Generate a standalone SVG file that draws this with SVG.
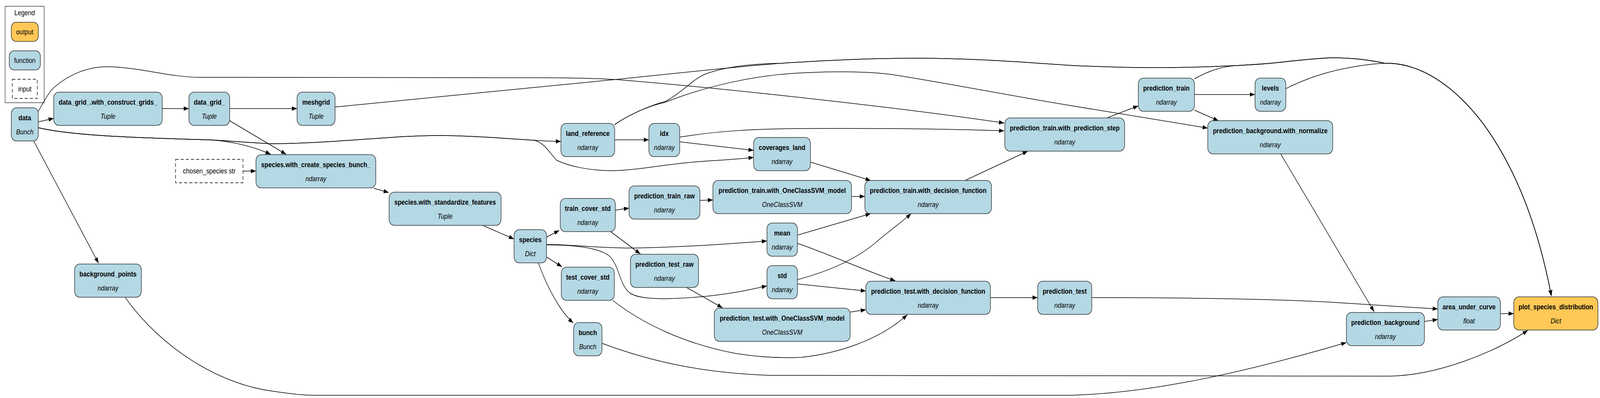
<svg xmlns="http://www.w3.org/2000/svg" width="4675" height="1019" viewBox="0 0 4675 1019" preserveAspectRatio="none">
<style>
:root{width:100vw;height:100vh}
.nd rect{fill:#b4d8e4;stroke:#333;stroke-width:1.6}
.nd.out rect{fill:#ffc857}
.nd.inp rect{fill:#fff;stroke:#000;stroke-width:1.4;stroke-dasharray:9,6}
.b{font-family:"Liberation Sans",Arial,Helvetica,sans-serif;font-weight:bold;font-size:18px;text-anchor:middle;fill:#000}
.i{font-family:"Liberation Sans",Arial,Helvetica,sans-serif;font-style:italic;font-size:18px;text-anchor:middle;fill:#000}
.r{font-family:"Liberation Sans",Arial,Helvetica,sans-serif;font-size:18px;text-anchor:middle;fill:#000}
#edges path{fill:none;stroke:#000;stroke-width:1.5;marker-end:url(#arr)}
</style>
<defs>
<marker id="arr" markerUnits="userSpaceOnUse" markerWidth="16" markerHeight="12" refX="15" refY="6" orient="auto">
<path d="M0,0.5 L15,6 L0,11.5 z" fill="#000"/>
</marker>
</defs>
<rect x="0" y="0" width="4675" height="1019" fill="#fff"/>

<g id="legend">
<rect x="15" y="16" width="114" height="247" fill="#fff" stroke="#333" stroke-width="1.4"/>
<text class="r" x="72" y="39">Legend</text>
<g class="nd out"><rect x="33" y="57" width="79" height="49" rx="14"/></g>
<text class="r" x="72.5" y="88">output</text>
<g class="nd"><rect x="27" y="130" width="91" height="49" rx="14"/></g>
<text class="r" x="72.5" y="161">function</text>
<g class="nd inp"><rect x="36" y="203" width="73" height="49"/></g>
<text class="r" x="72.5" y="234">input</text>
</g>

<g id="edges">
<path d="M112,312 L157,303"/>
<path d="M112,285 C125,265 140,240 153,228 C200,190 260,168 327,171 C420,175 500,198 587,198 L1560,199 C1650,199 1730,200 1805,204 C2100,225 2600,272 2934,315"/>
<path d="M112,327 C200,345 350,352 612,358 C680,362 740,375 791,395"/>
<path d="M112,327 C200,345 350,352 612,358 C700,362 760,368 800,368 C1000,366 1150,346 1290,347 C1400,348 1480,355 1560,359 C1590,361 1610,362 1639,362"/>
<path d="M112,327 C200,345 350,352 612,358 C700,362 760,368 800,368 C1000,366 1150,346 1290,347 C1400,348 1480,355 1560,359 C1590,365 1605,390 1626,410 C1660,425 1720,437 1790,437 C1880,435 1950,418 2070,412 C2130,409 2170,406 2202,403"/>
<path d="M99,362 L288,674"/>
<path d="M474,278 L552,278"/>
<path d="M671,278 L868,278"/>
<path d="M671,309 L836,395"/>
<path d="M710,438 L748,438"/>
<path d="M979,274 L1560,224 L1805,203 C2000,185 2200,167 2284,162 C2400,155 2550,149 2677,149 C2850,149 3000,160 3140,168 C3250,172 3350,174 3426,173 C3550,171 3650,167 3712,162 C3780,156 3850,148 3895,148 C3960,148 4010,155 4046,162 C4150,160 4250,220 4334,317 C4420,420 4490,560 4533,758"/>
<path d="M1796,319 C1840,292 1900,270 1943,260 C1990,240 2020,205 2060,190 C2120,170 2200,163 2284,162 C2400,155 2550,149 2677,149 C2850,149 3000,160 3140,168 C3250,172 3350,174 3426,173 C3550,171 3650,167 3712,162 C3780,156 3850,148 3895,148 C3960,148 4010,155 4046,162 C4150,160 4250,220 4334,317 C4420,420 4490,560 4533,758"/>
<path d="M1796,319 C1840,292 1900,270 1943,262 C2050,225 2200,190 2360,186 C2450,182 2530,183 2600,190 C2750,210 2950,245 3140,272 C3300,295 3420,312 3529,328"/>
<path d="M3490,202 C3530,182 3570,170 3610,168 C3650,166 3680,164 3712,162 C3780,156 3850,148 3895,148 C3960,148 4010,155 4046,162 C4150,160 4250,220 4334,317 C4420,420 4490,560 4533,758"/>
<path d="M3757,227 C3800,208 3850,190 3920,177 C3970,168 4010,163 4046,162 C4150,160 4250,220 4334,317 C4420,420 4490,560 4533,758"/>
<path d="M1986,351 C2100,335 2200,330 2360,329 C2600,328 2800,331 2934,335"/>
<path d="M1986,363 L2202,385"/>
<path d="M1796,358 L1896,358"/>
<path d="M1092,482 L1136,493"/>
<path d="M1413,578 L1502,612"/>
<path d="M366,762 C470,890 640,985 800,1002 C850,1008 880,1012 920,1012 L3100,1012 C3350,1012 3650,950 3934,877"/>
<path d="M1759,879 C1900,925 2050,955 2250,961 L4054,963 C4200,963 4370,900 4464,846"/>
<path d="M3190,762 C3450,762 3700,765 3875,773 L4201,791"/>
<path d="M4162,823 L4201,818"/>
<path d="M4384,803 L4423,803"/>
<path d="M3742,394 L4015,798"/>
<path d="M3490,242 L3667,242"/>
<path d="M3490,282 L3560,309"/>
<path d="M3237,301 L3326,271"/>
<path d="M2820,462 L3003,387"/>
<path d="M2894,762 L3032,762"/>
<path d="M2488,503 L2527,503"/>
<path d="M2484,799 L2530,793"/>
<path d="M2368,415 L2544,462"/>
<path d="M2330,602 L2544,547"/>
<path d="M2330,716 C2420,695 2500,665 2560,620 C2600,590 2640,565 2662,547"/>
<path d="M2330,623 C2420,650 2520,690 2616,719"/>
<path d="M2330,727 L2530,745"/>
<path d="M1790,769 C1880,830 2000,880 2150,905 C2220,915 2290,917 2340,915 C2450,905 2570,870 2651,806"/>
<path d="M1597,607 L1634,590"/>
<path d="M1597,658 L1642,683"/>
<path d="M1573,673 C1600,740 1640,800 1675,827"/>
<path d="M1597,626 C1680,626 1750,636 1850,635 C2000,633 2150,623 2241,617"/>
<path d="M1597,627 C1680,627 1750,635 1780,655 C1810,680 1810,730 1840,750 C1870,768 1950,768 2070,758 C2150,750 2200,740 2241,732"/>
<path d="M1798,538 L1838,533"/>
<path d="M1784,593 L1871,650"/>
<path d="M2045,513 L2083,512"/>
<path d="M2006,736 L2111,788"/>
</g>

<g id="data" class="nd"><rect x="33" y="276" width="79" height="85" rx="15"/><text class="b" x="72.5" y="308">data</text><text class="i" x="72.5" y="344">Bunch</text></g>
<g id="data_grid_with_construct_grids" class="nd"><rect x="157" y="236" width="317" height="85" rx="15"/><text class="b" x="315.5" y="268">data_grid_.with_construct_grids_</text><text class="i" x="315.5" y="304">Tuple</text></g>
<g id="data_grid_" class="nd"><rect x="552" y="236" width="119" height="85" rx="15"/><text class="b" x="611.5" y="268">data_grid_</text><text class="i" x="611.5" y="304">Tuple</text></g>
<g id="meshgrid" class="nd"><rect x="868" y="236" width="111" height="85" rx="15"/><text class="b" x="923.5" y="268">meshgrid</text><text class="i" x="923.5" y="304">Tuple</text></g>
<g id="chosen_species" class="nd inp"><rect x="513" y="408" width="197" height="60"/><text class="r" x="611.5" y="444">chosen_species str</text></g>
<g id="species_with_create_species_bunch" class="nd"><rect x="748" y="396" width="350" height="85" rx="15"/><text class="b" x="923" y="428">species.with_create_species_bunch_</text><text class="i" x="923" y="464">ndarray</text></g>
<g id="species_with_standardize_features" class="nd"><rect x="1137" y="492" width="327" height="85" rx="15"/><text class="b" x="1300.5" y="524">species.with_standardize_features</text><text class="i" x="1300.5" y="560">Tuple</text></g>
<g id="species" class="nd"><rect x="1502" y="588" width="95" height="85" rx="15"/><text class="b" x="1549.5" y="620">species</text><text class="i" x="1549.5" y="656">Dict</text></g>
<g id="background_points" class="nd"><rect x="218" y="676" width="195" height="85" rx="15"/><text class="b" x="315.5" y="708">background_points</text><text class="i" x="315.5" y="744">ndarray</text></g>
<g id="land_reference" class="nd"><rect x="1639" y="316" width="157" height="85" rx="15"/><text class="b" x="1717.5" y="348">land_reference</text><text class="i" x="1717.5" y="384">ndarray</text></g>
<g id="idx" class="nd"><rect x="1896" y="316" width="90" height="85" rx="15"/><text class="b" x="1941" y="348">idx</text><text class="i" x="1941" y="384">ndarray</text></g>
<g id="coverages_land" class="nd"><rect x="2202" y="352" width="166" height="85" rx="15"/><text class="b" x="2285" y="384">coverages_land</text><text class="i" x="2285" y="420">ndarray</text></g>
<g id="train_cover_std" class="nd"><rect x="1637" y="508" width="161" height="85" rx="15"/><text class="b" x="1717.5" y="540">train_cover_std</text><text class="i" x="1717.5" y="576">ndarray</text></g>
<g id="test_cover_std" class="nd"><rect x="1640" y="684" width="155" height="85" rx="15"/><text class="b" x="1717.5" y="716">test_cover_std</text><text class="i" x="1717.5" y="752">ndarray</text></g>
<g id="bunch" class="nd"><rect x="1676" y="826" width="83" height="85" rx="15"/><text class="b" x="1717.5" y="858">bunch</text><text class="i" x="1717.5" y="894">Bunch</text></g>
<g id="prediction_train_raw" class="nd"><rect x="1838" y="476" width="207" height="85" rx="15"/><text class="b" x="1941.5" y="508">prediction_train_raw</text><text class="i" x="1941.5" y="544">ndarray</text></g>
<g id="prediction_test_raw" class="nd"><rect x="1842" y="651" width="199" height="85" rx="15"/><text class="b" x="1941.5" y="683">prediction_test_raw</text><text class="i" x="1941.5" y="719">ndarray</text></g>
<g id="prediction_train_with_OneClassSVM_model" class="nd"><rect x="2083" y="462" width="405" height="85" rx="15"/><text class="b" x="2285.5" y="494">prediction_train.with_OneClassSVM_model</text><text class="i" x="2285.5" y="530">OneClassSVM</text></g>
<g id="prediction_test_with_OneClassSVM_model" class="nd"><rect x="2087" y="789" width="397" height="85" rx="15"/><text class="b" x="2285.5" y="821">prediction_test.with_OneClassSVM_model</text><text class="i" x="2285.5" y="857">OneClassSVM</text></g>
<g id="mean" class="nd"><rect x="2241" y="571" width="89" height="85" rx="15"/><text class="b" x="2285.5" y="603">mean</text><text class="i" x="2285.5" y="639">ndarray</text></g>
<g id="std" class="nd"><rect x="2241" y="680" width="89" height="85" rx="15"/><text class="b" x="2285.5" y="712">std</text><text class="i" x="2285.5" y="748">ndarray</text></g>
<g id="prediction_train_with_decision_function" class="nd"><rect x="2527" y="462" width="370" height="85" rx="15"/><text class="b" x="2712" y="494">prediction_train.with_decision_function</text><text class="i" x="2712" y="530">ndarray</text></g>
<g id="prediction_test_with_decision_function" class="nd"><rect x="2530" y="720" width="364" height="85" rx="15"/><text class="b" x="2712" y="752">prediction_test.with_decision_function</text><text class="i" x="2712" y="788">ndarray</text></g>
<g id="prediction_train_with_prediction_step" class="nd"><rect x="2936" y="302" width="350" height="85" rx="15"/><text class="b" x="3111" y="334">prediction_train.with_prediction_step</text><text class="i" x="3111" y="370">ndarray</text></g>
<g id="prediction_test" class="nd"><rect x="3032" y="720" width="158" height="85" rx="15"/><text class="b" x="3111" y="752">prediction_test</text><text class="i" x="3111" y="788">ndarray</text></g>
<g id="prediction_train" class="nd"><rect x="3326" y="200" width="164" height="85" rx="15"/><text class="b" x="3408" y="232">prediction_train</text><text class="i" x="3408" y="268">ndarray</text></g>
<g id="levels" class="nd"><rect x="3667" y="200" width="90" height="85" rx="15"/><text class="b" x="3712" y="232">levels</text><text class="i" x="3712" y="268">ndarray</text></g>
<g id="prediction_background_with_normalize" class="nd"><rect x="3529" y="309" width="365" height="85" rx="15"/><text class="b" x="3711.5" y="341">prediction_background.with_normalize</text><text class="i" x="3711.5" y="377">ndarray</text></g>
<g id="prediction_background" class="nd"><rect x="3934" y="800" width="228" height="85" rx="15"/><text class="b" x="4048" y="832">prediction_background</text><text class="i" x="4048" y="868">ndarray</text></g>
<g id="area_under_curve" class="nd"><rect x="4201" y="760" width="183" height="85" rx="15"/><text class="b" x="4292.5" y="792">area_under_curve</text><text class="i" x="4292.5" y="828">float</text></g>
<g id="plot_species_distribution" class="nd out"><rect x="4423" y="760" width="246" height="85" rx="15"/><text class="b" x="4546" y="792">plot_species_distribution</text><text class="i" x="4546" y="828">Dict</text></g>
</svg>
